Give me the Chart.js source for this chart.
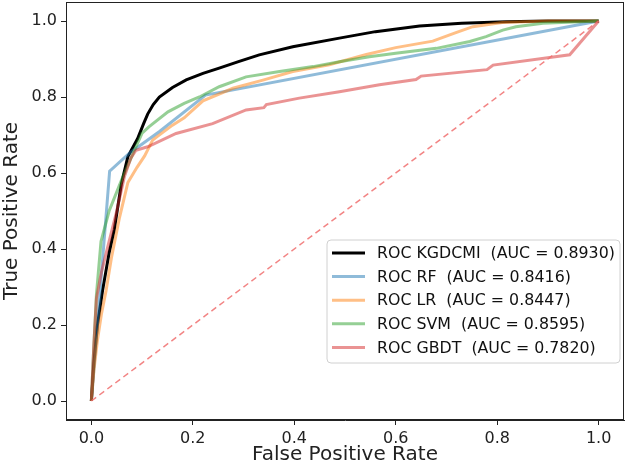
<!DOCTYPE html>
<html>
<head>
<meta charset="utf-8">
<script src="https://cdn.jsdelivr.net/npm/chart.js@4.4.0/dist/chart.umd.min.js"></script>
<style>
  html, body { margin: 0; padding: 0; background: #fff; }
  #wrap { width: 630px; height: 470px; }
</style>
</head>
<body>
<div id="wrap"><canvas id="c" width="630" height="470"></canvas></div>
<script>
// ---- data (FPR, TPR) ----
const xTicks = [0.0, 0.2, 0.4, 0.6, 0.8, 1.0];
const yTicks = [0.0, 0.2, 0.4, 0.6, 0.8, 1.0];

const seriesNames = ['ROC KGDCMI  (AUC = 0.8930)', 'ROC RF  (AUC = 0.8416)', 'ROC LR  (AUC = 0.8447)', 'ROC SVM  (AUC = 0.8595)', 'ROC GBDT  (AUC = 0.7820)'];

const kgdcmi = [[0,0],[0.005,0.1],[0.012,0.2],[0.022,0.29],[0.035,0.39],[0.045,0.45],[0.059,0.57],[0.072,0.643],[0.091,0.69],[0.103,0.73],[0.111,0.755],[0.122,0.78],[0.134,0.8],[0.16,0.825],[0.187,0.845],[0.22,0.862],[0.252,0.876],[0.29,0.893],[0.331,0.911],[0.397,0.932],[0.489,0.955],[0.56,0.972],[0.647,0.987],[0.73,0.994],[0.818,0.998],[0.9,1.0],[1,1]];
const rf = [[0,0],[0.036,0.605],[0.075,0.652],[0.135,0.71],[0.225,0.805],[1,1]];
const lr = [[0,0],[0.005,0.08],[0.012,0.16],[0.02,0.23],[0.029,0.29],[0.04,0.38],[0.055,0.48],[0.072,0.575],[0.09,0.615],[0.105,0.645],[0.121,0.687],[0.131,0.697],[0.16,0.726],[0.183,0.745],[0.22,0.79],[0.279,0.823],[0.34,0.845],[0.397,0.867],[0.469,0.885],[0.542,0.912],[0.6,0.93],[0.673,0.947],[0.72,0.97],[0.752,0.985],[0.81,0.996],[0.9,1],[1,1]];
const svm = [[0,0],[0.004,0.12],[0.01,0.28],[0.019,0.42],[0.035,0.5],[0.059,0.58],[0.072,0.62],[0.085,0.66],[0.1,0.705],[0.114,0.722],[0.151,0.761],[0.183,0.783],[0.213,0.8],[0.252,0.827],[0.305,0.853],[0.371,0.867],[0.437,0.88],[0.489,0.893],[0.548,0.906],[0.6,0.915],[0.68,0.928],[0.746,0.946],[0.778,0.959],[0.811,0.976],[0.837,0.985],[0.89,0.994],[1,1]];
const gbdt = [[0,0],[0.005,0.15],[0.01,0.27],[0.02,0.34],[0.035,0.42],[0.05,0.5],[0.065,0.59],[0.078,0.64],[0.088,0.66],[0.111,0.669],[0.167,0.704],[0.239,0.73],[0.305,0.766],[0.34,0.772],[0.345,0.78],[0.41,0.797],[0.489,0.814],[0.568,0.832],[0.64,0.846],[0.65,0.855],[0.78,0.872],[0.792,0.884],[0.943,0.911],[1,1]];
const diagonal = [[0,0],[1,1]];

const colors = ['#000000', 'rgba(31,119,180,0.5)', 'rgba(255,127,14,0.5)', 'rgba(44,160,44,0.5)', 'rgba(214,39,40,0.5)'];
const widths = [3, 3, 3, 3, 3];

const toXY = arr => arr.map(p => ({x: p[0], y: p[1]}));
const allSeries = [kgdcmi, rf, lr, svm, gbdt];

const datasets = allSeries.map((s, i) => ({
  label: seriesNames[i],
  data: toXY(s),
  borderColor: colors[i],
  borderWidth: widths[i],
  showLine: true,
  pointRadius: 0,
  tension: 0,
  fill: false,
  order: 10 - i
}));
datasets.push({
  label: 'diag',
  data: toXY(diagonal),
  borderColor: 'rgba(240,110,110,0.85)',
  borderWidth: 1.5,
  borderDash: [6, 4],
  showLine: true,
  pointRadius: 0,
  fill: false,
  order: 0
});

const FONT = 'DejaVu Sans';

const framePlugin = {
  id: 'frame',
  afterDatasetsDraw(chart) {
    const {ctx, chartArea: a} = chart;
    ctx.save();
    ctx.strokeStyle = '#222';
    ctx.lineWidth = 1;
    ctx.strokeRect(Math.round(a.left) + 0.5, Math.round(a.top) + 0.5, Math.round(a.right - a.left) - 1, Math.round(a.bottom - a.top) - 1);
    ctx.restore();
  },
  afterDraw(chart) {
    const ctx = chart.ctx;
    // legend box
    const bx = 327, by = 240, bw = 293, bh = 123, r = 4;
    ctx.save();
    ctx.fillStyle = 'rgba(255,255,255,0.85)';
    ctx.strokeStyle = '#d0d0d0';
    ctx.lineWidth = 1;
    ctx.beginPath();
    ctx.moveTo(bx + r, by);
    ctx.arcTo(bx + bw, by, bx + bw, by + bh, r);
    ctx.arcTo(bx + bw, by + bh, bx, by + bh, r);
    ctx.arcTo(bx, by + bh, bx, by, r);
    ctx.arcTo(bx, by, bx + bw, by, r);
    ctx.closePath();
    ctx.fill();
    ctx.stroke();
    ctx.font = '15.8px "' + FONT + '"';
    ctx.textBaseline = 'middle';
    for (let i = 0; i < seriesNames.length; i++) {
      const y = 253 + i * 23.6;
      ctx.strokeStyle = colors[i];
      ctx.lineWidth = widths[i];
      ctx.beginPath();
      ctx.moveTo(332, y);
      ctx.lineTo(365, y);
      ctx.stroke();
      ctx.fillStyle = '#111';
      ctx.fillText(seriesNames[i], 377, y + 1);
    }
    ctx.restore();
  }
};

new Chart(document.getElementById('c'), {
  type: 'scatter',
  data: { datasets },
  options: {
    responsive: false,
    animation: false,
    devicePixelRatio: 1,
    layout: { padding: { left: 0, right: 6, top: 2, bottom: 0 } },
    plugins: { legend: { display: false }, tooltip: { enabled: false } },
    scales: {
      x: {
        type: 'linear',
        min: -0.05, max: 1.05,
        afterBuildTicks(s) { s.ticks = xTicks.map(v => ({value: v})); },
        afterFit(s) { s.height = 50; s.paddingLeft = 0; s.paddingRight = 0; },
        grid: { drawOnChartArea: false, drawTicks: true, tickLength: 5, color: '#222', lineWidth: 1 },
        border: { display: true, color: '#222', width: 1 },
        ticks: { color: '#222', font: { family: FONT, size: 16 }, padding: 4, maxRotation: 0, callback: v => v.toFixed(1) },
        title: { display: true, text: 'False Positive Rate', color: '#222', font: { family: FONT, size: 20 }, padding: { top: 0, bottom: 3 } }
      },
      y: {
        type: 'linear',
        min: -0.05, max: 1.05,
        afterBuildTicks(s) { s.ticks = yTicks.map(v => ({value: v})); },
        afterFit(s) { s.width = 66; s.paddingTop = 0; s.paddingBottom = 0; },
        grid: { drawOnChartArea: false, drawTicks: true, tickLength: 5, color: '#222', lineWidth: 1 },
        border: { display: true, color: '#222', width: 1 },
        ticks: { color: '#222', font: { family: FONT, size: 16 }, padding: 4, callback: v => v.toFixed(1) },
        title: { display: true, text: 'True Positive Rate', color: '#222', font: { family: FONT, size: 20 }, padding: { top: 0, bottom: 0 } }
      }
    }
  },
  plugins: [framePlugin]
});
</script>
</body>
</html>
